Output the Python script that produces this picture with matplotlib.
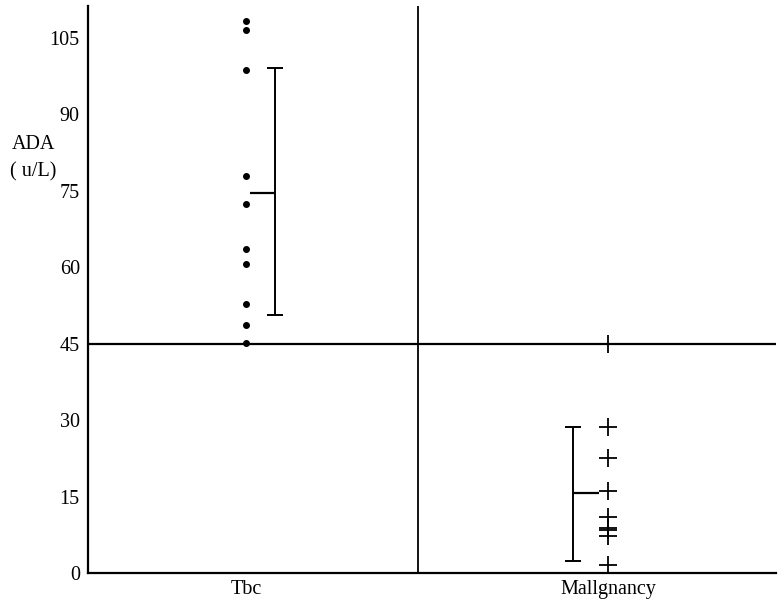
import matplotlib.pyplot as plt

plt.rcParams['font.family'] = ['Liberation Serif', 'DejaVu Serif']

# --- data ---
groups = ['Tbc', 'Mallgnancy']
tbc_values = [108.2, 106.5, 98.6, 77.8, 72.4, 63.5, 60.6, 52.7, 48.6, 45.1]
mal_values = [44.9, 28.6, 22.5, 16.1, 11.0, 8.8, 8.5, 7.3, 1.6]
tbc_mean, tbc_low, tbc_high = 74.6, 50.6, 99.1
mal_mean, mal_low, mal_high = 15.6, 2.4, 28.7
cutoff = 45
yticks = [0, 15, 30, 45, 60, 75, 90, 105]

# x layout (axis units 0..10)
x_groups = [2.30, 7.56]
x_bars = [2.72, 7.05]
x_divider = 4.80

fig = plt.figure(figsize=(7.8, 6.07), dpi=100)
ax = fig.add_axes([0.113, 0.056, 0.882, 0.934])

# points
ax.plot([x_groups[0]] * len(tbc_values), tbc_values, 'o', color='black',
        markersize=4, linestyle='none')
ax.plot([x_groups[1]] * len(mal_values), mal_values, '+', color='black',
        markersize=13, markeredgewidth=1.3, linestyle='none')

# mean +/- range bars
ax.errorbar(x_bars[0], tbc_mean,
            yerr=[[tbc_mean - tbc_low], [tbc_high - tbc_mean]],
            fmt='none', ecolor='black', elinewidth=1.4, capsize=6, capthick=1.4)
ax.hlines(tbc_mean, x_groups[0] + 0.06, x_bars[0], color='black', linewidth=1.6)
ax.errorbar(x_bars[1], mal_mean,
            yerr=[[mal_mean - mal_low], [mal_high - mal_mean]],
            fmt='none', ecolor='black', elinewidth=1.4, capsize=6, capthick=1.4)
ax.hlines(mal_mean, x_bars[1], x_groups[1] - 0.13, color='black', linewidth=1.6)

# cutoff and divider
ax.axhline(cutoff, color='black', linewidth=1.6)
ax.axvline(x_divider, color='black', linewidth=1.3)

ax.set_xlim(0, 10)
ax.set_ylim(0, 111.2)
ax.set_yticks(yticks)
ax.set_xticks(x_groups)
ax.set_xticklabels(groups)
ax.tick_params(axis='both', length=0, labelsize=14.5)
ax.tick_params(axis='x', pad=5)
ax.tick_params(axis='y', pad=6)

for s in ['top', 'right']:
    ax.spines[s].set_visible(False)
ax.spines['left'].set_linewidth(1.6)
ax.spines['bottom'].set_linewidth(1.6)

fig.text(0.043, 0.739, 'ADA\n( u/L)', ha='center', va='center', fontsize=14.5,
         linespacing=1.55)

fig.savefig('out.png', dpi=100)
